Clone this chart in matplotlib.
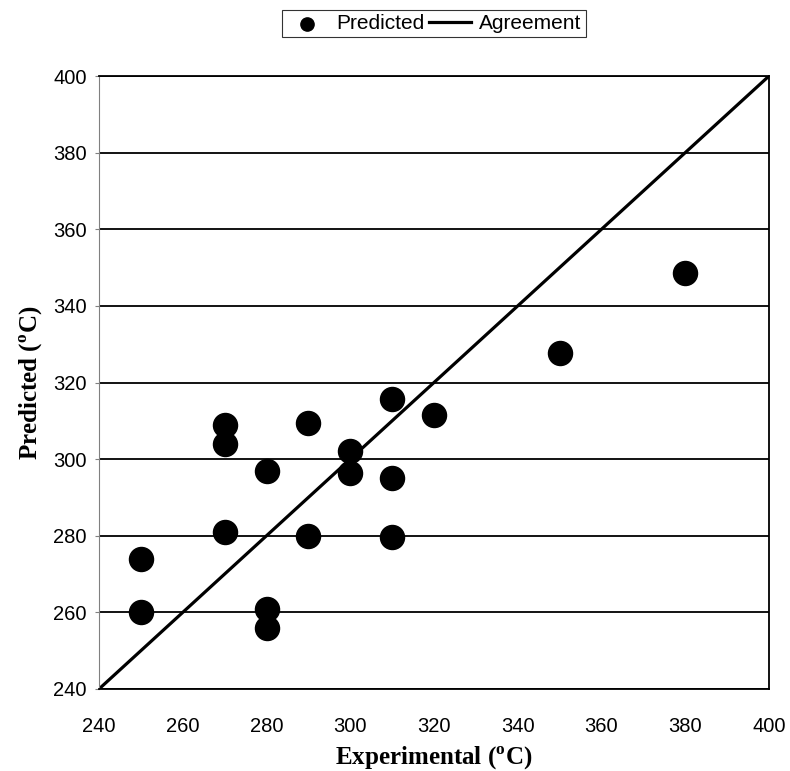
import matplotlib.pyplot as plt
import numpy as np

plt.rcParams['font.family'] = ['Liberation Sans', 'DejaVu Sans']
plt.rcParams['mathtext.fontset'] = 'custom'
plt.rcParams['mathtext.rm'] = 'Liberation Serif'
plt.rcParams['mathtext.bf'] = 'Liberation Serif:bold'

# experimental vs predicted temperatures (deg C)
experimental = [250, 250, 270, 270, 270, 280, 280, 280, 290, 290, 300, 300,
                310, 310, 310, 320, 350, 380]
predicted = [274, 260, 309, 304, 281, 297, 261, 256, 309.5, 280, 302, 296.5,
             315.8, 295, 279.7, 311.6, 327.8, 348.5]
agreement = [240, 400]
ticks = np.arange(240, 401, 20)

fig = plt.figure(figsize=(7.90, 7.71), dpi=100)
ax = fig.add_axes([99 / 790, 1 - 689 / 771, 670 / 790, 613 / 771])

ax.scatter(experimental, predicted, s=300, color='black', zorder=3, label='Predicted')
ax.plot(agreement, agreement, color='black', lw=2.3, zorder=2, label='Agreement')

ax.set_xlim(240, 400)
ax.set_ylim(240, 400)
ax.set_xticks(ticks)
ax.set_yticks(ticks)
ax.yaxis.grid(True, color='black', lw=1.3)
ax.set_axisbelow(True)
ax.tick_params(labelsize=14.5, length=3, width=0.8, color='gray')
ax.tick_params(axis='y', pad=6)
ax.tick_params(axis='x', length=0, pad=20)

for side in ['top', 'right', 'bottom']:
    ax.spines[side].set_color('black')
    ax.spines[side].set_linewidth(1.3)
ax.spines['left'].set_color('gray')
ax.spines['left'].set_linewidth(0.8)

ax.set_xlabel(r'Experimental ($^\mathbf{o}$C)', fontsize=18, fontweight='bold',
              family='Liberation Serif', labelpad=6.5)
ax.set_ylabel(r'Predicted ($^\mathbf{o}$C)', fontsize=18, fontweight='bold',
              family='Liberation Serif', labelpad=6)

leg = ax.legend(loc='lower center', bbox_to_anchor=(0.5, 1.046), ncol=2, fontsize=15,
                frameon=True, fancybox=False, edgecolor='black', handlelength=2.0,
                handletextpad=0.4, columnspacing=0.2, borderpad=0.2, markerscale=0.55)
leg.get_frame().set_linewidth(0.8)

fig.savefig('out.png', dpi=100)
